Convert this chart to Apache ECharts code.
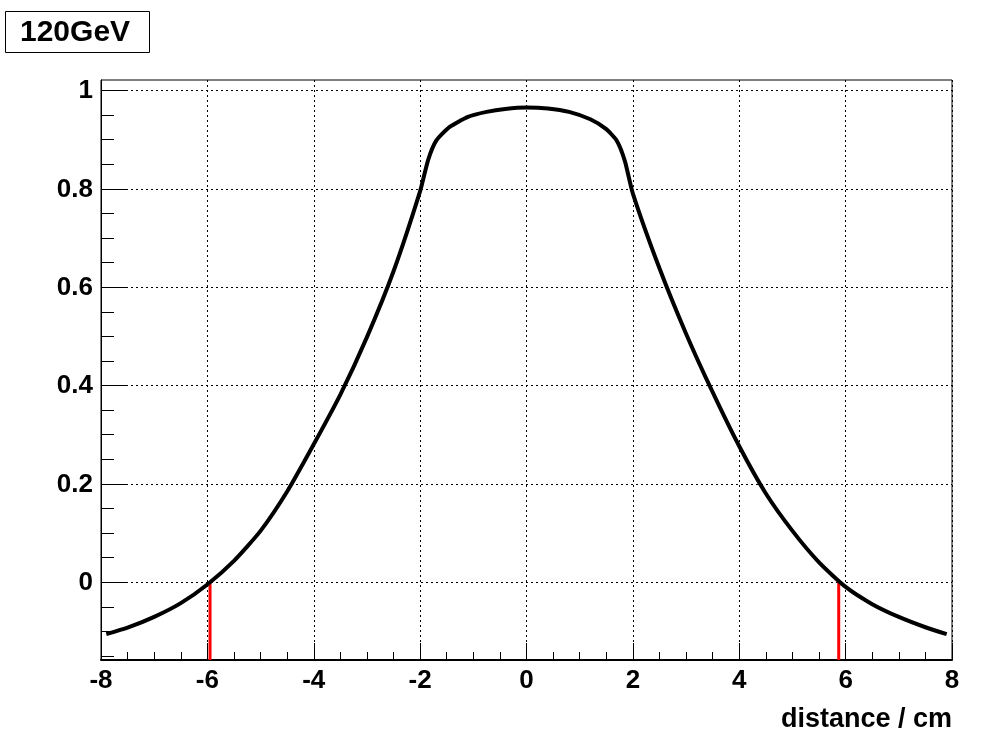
<!DOCTYPE html>
<html><head><meta charset="utf-8">
<script src="https://cdn.jsdelivr.net/npm/echarts@6/dist/echarts.min.js"></script>
<style>html,body{margin:0;padding:0;background:#fff}#c{width:986px;height:745px}</style>
</head><body><div id="c"></div>
<script>
const titleText = '120GeV';
const xTitle = 'distance / cm';
const xValues = [-7.9,-7.5,-7.0,-6.5,-6.0,-5.5,-5.0,-4.5,-4.0,-3.5,-3.0,-2.5,-2.0,-1.85,-1.7,-1.45,-1.1,-0.75,-0.4,0,0.4,0.8,1.2,1.5,1.7,1.85,2.0,2.5,3.0,3.5,4.0,4.5,5.0,5.5,6.0,6.5,7.0,7.5,7.9];
const yValues = [-0.106,-0.093,-0.071,-0.043,-0.005,0.043,0.104,0.184,0.280,0.381,0.498,0.632,0.795,0.858,0.897,0.925,0.946,0.956,0.962,0.965,0.963,0.956,0.941,0.921,0.897,0.856,0.790,0.638,0.505,0.386,0.276,0.180,0.104,0.040,-0.010,-0.045,-0.071,-0.092,-0.106];
const cutX = [-5.95, 5.87];
const cutY = 0;
const xMin = -8, xMax = 8, xInterval = 2;
const yMin = -0.1586, yMax = 1.0209;
const yMajorTicks = [0, 0.2, 0.4, 0.6, 0.8, 1];
const yTickLabels = ['0', '0.2', '0.4', '0.6', '0.8', '1'];
const yMinorTicks = [-0.15,-0.1,-0.05,0.05,0.1,0.15,0.25,0.3,0.35,0.45,0.5,0.55,0.65,0.7,0.75,0.85,0.9,0.95];

const FONT = '"Liberation Sans", Arial, Helvetica, sans-serif';
const chart = echarts.init(document.getElementById('c'), null, {renderer: 'canvas'});

const curveData = xValues.map((x, i) => [x, yValues[i]]);
const tickData = yMajorTicks.map(v => [xMin, v]).concat(yMinorTicks.map(v => [xMin, v]));
const nMajor = yMajorTicks.length;

const redSeries = cutX.map(cx => ({
  type: 'line', data: [[cx, cutY], [cx, yMin]], showSymbol: false, symbol: 'none',
  lineStyle: {color: '#ff0000', width: 3}, z: 3, silent: true, animation: false
}));

chart.setOption({
  animation: false,
  backgroundColor: '#fff',
  grid: {left: 101, right: 34, top: 80, bottom: 85, show: true, borderColor: '#000', borderWidth: 1, backgroundColor: 'transparent', containLabel: false},
  xAxis: {
    type: 'value', min: xMin, max: xMax, interval: xInterval,
    axisLine: {show: true, onZero: false, lineStyle: {color: '#000', width: 2}},
    axisTick: {show: true, inside: true, length: 17, lineStyle: {color: '#000', width: 1}},
    minorTick: {show: true, splitNumber: 4, length: 8, lineStyle: {color: '#000', width: 1}},
    splitLine: {show: true, lineStyle: {color: '#000', width: 1, type: [2, 3]}},
    axisLabel: {show: true, margin: 8, color: '#000', fontSize: 26, fontWeight: 'bold', fontFamily: FONT}
  },
  yAxis: {
    type: 'value', min: yMin, max: yMax,
    axisLine: {show: true, onZero: false, lineStyle: {color: '#000', width: 1}},
    axisTick: {show: false}, axisLabel: {show: false}, splitLine: {show: false}
  },
  graphic: [
    {type: 'rect', shape: {x: 5.5, y: 11.5, width: 144, height: 41}, style: {fill: '#fff', stroke: '#000', lineWidth: 1}, z: 10},
    {type: 'text', x: 20, y: 33, style: {text: titleText, font: 'bold 30px ' + FONT, fill: '#000', verticalAlign: 'middle', align: 'left'}, z: 11},
    {type: 'text', x: 952, y: 720, style: {text: xTitle, font: 'bold 27px ' + FONT, fill: '#000', verticalAlign: 'middle', align: 'right'}, z: 11}
  ],
  series: [
    {
      type: 'custom', data: tickData, clip: false, z: 1, silent: true,
      encode: {x: 0, y: 1},
      renderItem: function (params, api) {
        const v = api.value(1);
        const p = api.coord([xMin, v]);
        const q = api.coord([xMax, v]);
        const y = Math.round(p[1]) + 0.5;
        const children = [];
        const major = params.dataIndex < nMajor;
        if (major) {
          children.push({type: 'line', shape: {x1: p[0], y1: y, x2: q[0], y2: y}, style: {stroke: '#000', lineWidth: 1, lineDash: [2, 3]}});
          children.push({type: 'line', shape: {x1: p[0], y1: y, x2: p[0] + 25, y2: y}, style: {stroke: '#000', lineWidth: 1}});
          children.push({type: 'text', x: p[0] - 8, y: p[1] + 1, style: {text: yTickLabels[params.dataIndex], font: 'bold 26px ' + FONT, fill: '#000', align: 'right', verticalAlign: 'middle'}});
        } else {
          children.push({type: 'line', shape: {x1: p[0], y1: y, x2: p[0] + 13, y2: y}, style: {stroke: '#000', lineWidth: 1}});
        }
        return {type: 'group', children: children};
      }
    },
    {
      type: 'line', data: curveData, showSymbol: false, symbol: 'none', smooth: 0.2,
      lineStyle: {color: '#000', width: 4}, z: 4, silent: true
    }
  ].concat(redSeries)
});
</script>
</body></html>
